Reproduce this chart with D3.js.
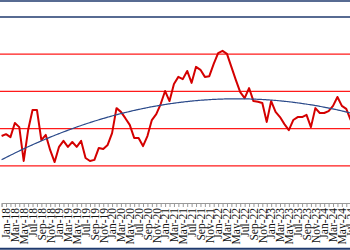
<!DOCTYPE html>
<html><head><meta charset="utf-8">
<script src="https://cdn.jsdelivr.net/npm/d3@7"></script>
<style>html,body{margin:0;padding:0;background:#fff;overflow:hidden}svg{display:block}</style>
</head><body>
<svg id="c" width="350" height="250"></svg>
<script>
const months = ["Dec-17",
 "Jan-18","Feb-18","Mar-18","Apr-18","May-18","Jun-18","Jul-18","Aug-18","Sep-18","Oct-18","Nov-18","Dec-18",
 "Jan-19","Feb-19","Mar-19","Apr-19","May-19","Jun-19","Jul-19","Aug-19","Sep-19","Oct-19","Nov-19","Dec-19",
 "Jan-20","Feb-20","Mar-20","Apr-20","May-20","Jun-20","Jul-20","Aug-20","Sep-20","Oct-20","Nov-20","Dec-20",
 "Jan-21","Feb-21","Mar-21","Apr-21","May-21","Jun-21","Jul-21","Aug-21","Sep-21","Oct-21","Nov-21","Dec-21",
 "Jan-22","Feb-22","Mar-22","Apr-22","May-22","Jun-22","Jul-22","Aug-22","Sep-22","Oct-22","Nov-22","Dec-22",
 "Jan-23","Feb-23","Mar-23","Apr-23","May-23","Jun-23","Jul-23","Aug-23","Sep-23","Oct-23","Nov-23","Dec-23",
 "Jan-24","Feb-24","Mar-24","Apr-24","May-24","Jun-24","Jul-24"];
const values = [18.0,
 18.5,17.7,21.5,20.4,11.3,19.6,25.0,25.0,16.9,18.3,14.2,11.0,
 15.1,16.7,15.1,16.4,15.1,16.7,12.1,11.3,11.6,14.8,14.5,15.6,
 18.8,25.5,24.5,22.8,21.0,17.5,17.5,15.3,18.0,22.3,23.9,26.6,
 30.1,27.4,32.0,33.9,33.3,35.5,32.3,36.6,35.8,33.9,34.1,37.4,
 40.3,40.9,40.1,36.6,33.1,29.8,28.2,30.9,27.4,27.2,26.9,21.8,
 27.4,24.5,23.1,21.2,19.6,22.3,23.1,23.1,23.7,20.4,25.5,24.2,
 24.2,24.7,26.1,28.5,26.1,25.3,22.3];
const yTicks = [0,10,20,30,40,50];

const svg = d3.select("#c");
const x = d3.scalePoint().domain(months).range([1.6, 350.7]);
const y = d3.scaleLinear().domain([0,50]).range([203,17]);

// frame lines
svg.append("line").attr("x1",0).attr("x2",350).attr("y1",1).attr("y2",1)
  .attr("stroke","#1f3a6e").attr("stroke-width",1.6);
svg.append("line").attr("x1",0).attr("x2",350).attr("y1",248.8).attr("y2",248.8)
  .attr("stroke","#1f3a6e").attr("stroke-width",2);

// gridlines
svg.append("g").selectAll("line").data(yTicks.filter(t=>t>0)).join("line")
  .attr("x1",0).attr("x2",350)
  .attr("y1",d=>y(d)).attr("y2",d=>y(d))
  .attr("stroke",d=>d===50?"#1f3a6e":"#ff1a1a")
  .attr("stroke-width",d=>d===50?1.4:1.3);

// x axis
const ax = svg.append("g").attr("transform",`translate(0,${y(0)})`)
  .call(d3.axisBottom(x).tickSize(4).tickFormat((d,i)=> (i%2===1)?d:""));
ax.select(".domain").attr("stroke","#999").attr("stroke-width",1);
ax.selectAll(".tick line").attr("stroke","#999");
ax.selectAll(".tick text")
  .attr("font-family","'Liberation Serif','Times New Roman',serif")
  .attr("font-size","11.5px").attr("fill","#111")
  .attr("transform","rotate(-90)")
  .attr("text-anchor","end").attr("x",-5).attr("y",0).attr("dy","0.33em");

// quadratic trend computed from data
const n = values.length;
const idx = values.map((v,i)=>i);
function fitQuad(xs, ys){
  let S=[0,0,0,0,0], T=[0,0,0];
  xs.forEach((xv,i)=>{ for(let k=0;k<5;k++) S[k]+=Math.pow(xv,k); for(let k=0;k<3;k++) T[k]+=ys[i]*Math.pow(xv,k);});
  const A=[[S[0],S[1],S[2],T[0]],[S[1],S[2],S[3],T[1]],[S[2],S[3],S[4],T[2]]];
  for(let i=0;i<3;i++){ for(let j=i+1;j<3;j++){ const f=A[j][i]/A[i][i]; for(let k=i;k<4;k++) A[j][k]-=f*A[i][k]; } }
  const c=[0,0,0];
  for(let i=2;i>=0;i--){ let s=A[i][3]; for(let k=i+1;k<3;k++) s-=A[i][k]*c[k]; c[i]=s/A[i][i]; }
  return c;
}
const c = fitQuad(idx, values);
const trend = d3.range(0, n-1+0.001, 0.5).map(t=>({t, v:c[0]+c[1]*t+c[2]*t*t}));
const xi = d3.scaleLinear().domain([0,n-1]).range([1.6,350.7]);

svg.append("path").datum(values)
  .attr("fill","none").attr("stroke","#d40000").attr("stroke-width",2)
  .attr("stroke-linejoin","round")
  .attr("d", d3.line().x((d,i)=>x(months[i])).y(d=>y(d)));

svg.append("path").datum(trend)
  .attr("fill","none").attr("stroke","#2b4a8a").attr("stroke-width",1.2)
  .attr("d", d3.line().x(d=>xi(d.t)).y(d=>y(d.v)).curve(d3.curveBasis));
</script>
</body></html>
